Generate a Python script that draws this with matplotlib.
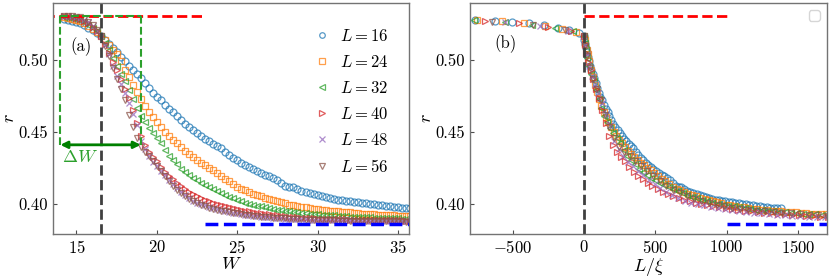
import matplotlib
matplotlib.use("Agg")
import matplotlib.pyplot as plt
import numpy as np

plt.rcParams['font.family'] = 'serif'
plt.rcParams['font.serif'] = ['cmr10']
plt.rcParams['mathtext.fontset'] = 'cm'
plt.rcParams['axes.formatter.use_mathtext'] = True

# disorder grid (step 0.25)
W = np.round(np.arange(14.25, 36.001, 0.25), 2)

L_sizes = [16, 24, 32, 40, 48, 56]

r16 = [0.5285, 0.5280, 0.5273, 0.5264, 0.5253, 0.5240, 0.5225, 0.5208, 0.5189, 0.5168,
       0.5140, 0.5110, 0.5084, 0.5055, 0.5022, 0.4990, 0.4960, 0.4930, 0.4902, 0.4873,
       0.4840, 0.4805, 0.4772, 0.4745, 0.4718, 0.4690, 0.4662, 0.4635, 0.4608, 0.4580,
       0.4555, 0.4532, 0.4510, 0.4490, 0.4470, 0.4452, 0.4435, 0.4418, 0.4401, 0.4385,
       0.4362, 0.4340, 0.4321, 0.4302, 0.4287, 0.4272, 0.4257, 0.4243, 0.4229, 0.4216,
       0.4203, 0.4190, 0.4177, 0.4165, 0.4146, 0.4127, 0.4115, 0.4120, 0.4100, 0.4092,
       0.4083, 0.4075, 0.4068, 0.4060, 0.4052, 0.4045, 0.4040, 0.4035, 0.4030, 0.4025,
       0.4022, 0.4018, 0.4015, 0.4012, 0.4007, 0.4003, 0.4000, 0.3997, 0.3994, 0.3990,
       0.3986, 0.3982, 0.3979, 0.3976, 0.3974, 0.3971, 0.3970, 0.3968]

r24 = [0.5295, 0.5292, 0.5286, 0.5278, 0.5267, 0.5253, 0.5236, 0.5216, 0.5194, 0.5168,
       0.5135, 0.5105, 0.5072, 0.5038, 0.4995, 0.4930, 0.4880, 0.4825, 0.4775, 0.4725,
       0.4680, 0.4635, 0.4600, 0.4570, 0.4535, 0.4500, 0.4470, 0.4445, 0.4420, 0.4395,
       0.4370, 0.4345, 0.4325, 0.4305, 0.4287, 0.4270, 0.4252, 0.4235, 0.4212, 0.4195,
       0.4175, 0.4158, 0.4135, 0.4118, 0.4105, 0.4093, 0.4082, 0.4071, 0.4061, 0.4052,
       0.4043, 0.4035, 0.4027, 0.4020, 0.4012, 0.4005, 0.3995, 0.3990, 0.3985, 0.3980,
       0.3976, 0.3972, 0.3967, 0.3962, 0.3959, 0.3956, 0.3953, 0.3950, 0.3948, 0.3945,
       0.3942, 0.3940, 0.3937, 0.3934, 0.3932, 0.3930, 0.3928, 0.3926, 0.3924, 0.3922,
       0.3921, 0.3920, 0.3919, 0.3918, 0.3917, 0.3916, 0.3915, 0.3914]

r32 = [0.5300, 0.5298, 0.5294, 0.5287, 0.5277, 0.5263, 0.5245, 0.5223, 0.5198, 0.5168,
       0.5120, 0.5070, 0.5015, 0.4960, 0.4905, 0.4850, 0.4790, 0.4730, 0.4665, 0.4610,
       0.4570, 0.4530, 0.4490, 0.4455, 0.4420, 0.4375, 0.4333, 0.4305, 0.4275, 0.4245,
       0.4222, 0.4200, 0.4180, 0.4163, 0.4148, 0.4133, 0.4118, 0.4105, 0.4090, 0.4075,
       0.4062, 0.4050, 0.4038, 0.4027, 0.4018, 0.4009, 0.4001, 0.3994, 0.3988, 0.3982,
       0.3976, 0.3970, 0.3965, 0.3960, 0.3955, 0.3950, 0.3947, 0.3943, 0.3940, 0.3937,
       0.3934, 0.3931, 0.3929, 0.3927, 0.3925, 0.3923, 0.3921, 0.3919, 0.3917, 0.3915,
       0.3914, 0.3912, 0.3911, 0.3910, 0.3908, 0.3907, 0.3906, 0.3905, 0.3904, 0.3903,
       0.3902, 0.3901, 0.3900, 0.3899, 0.3898, 0.3898, 0.3897, 0.3896]

r40 = [0.5303, 0.5302, 0.5299, 0.5293, 0.5284, 0.5271, 0.5253, 0.5230, 0.5201, 0.5167,
       0.5110, 0.5045, 0.4985, 0.4930, 0.4865, 0.4800, 0.4735, 0.4655, 0.4565, 0.4470,
       0.4410, 0.4360, 0.4325, 0.4295, 0.4258, 0.4222, 0.4195, 0.4170, 0.4148, 0.4125,
       0.4103, 0.4083, 0.4067, 0.4053, 0.4041, 0.4030, 0.4019, 0.4008, 0.3998, 0.3990,
       0.3982, 0.3975, 0.3968, 0.3962, 0.3957, 0.3952, 0.3947, 0.3943, 0.3939, 0.3935,
       0.3930, 0.3926, 0.3922, 0.3919, 0.3916, 0.3913, 0.3910, 0.3908, 0.3906, 0.3904,
       0.3902, 0.3900, 0.3899, 0.3898, 0.3897, 0.3896, 0.3895, 0.3894, 0.3893, 0.3892,
       0.3892, 0.3891, 0.3890, 0.3890, 0.3889, 0.3889, 0.3888, 0.3888, 0.3887, 0.3887,
       0.3886, 0.3886, 0.3885, 0.3885, 0.3885, 0.3884, 0.3884, 0.3884]

r48 = [0.5305, 0.5304, 0.5302, 0.5297, 0.5290, 0.5278, 0.5260, 0.5235, 0.5204, 0.5166,
       0.5105, 0.5040, 0.4960, 0.4885, 0.4830, 0.4770, 0.4700, 0.4625, 0.4545, 0.4440,
       0.4380, 0.4330, 0.4293, 0.4260, 0.4228, 0.4197, 0.4165, 0.4135, 0.4107, 0.4082,
       0.4058, 0.4038, 0.4021, 0.4008, 0.3998, 0.3989, 0.3980, 0.3972, 0.3965, 0.3958,
       0.3951, 0.3945, 0.3939, 0.3934, 0.3929, 0.3925, 0.3921, 0.3917, 0.3914, 0.3911,
       0.3908, 0.3906, 0.3904, 0.3902, 0.3900, 0.3898, 0.3897, 0.3895, 0.3894, 0.3893,
       0.3892, 0.3891, 0.3890, 0.3889, 0.3888, 0.3888, 0.3887, 0.3887, 0.3886, 0.3886,
       0.3885, 0.3885, 0.3884, 0.3884, 0.3883, 0.3883, 0.3883, 0.3882, 0.3882, 0.3882,
       0.3881, 0.3881, 0.3881, 0.3880, 0.3880, 0.3880, 0.3880, 0.3879]

r56 = [0.5306, 0.5306, 0.5304, 0.5301, 0.5295, 0.5284, 0.5266, 0.5240, 0.5206, 0.5165,
       0.5100, 0.5030, 0.4945, 0.4865, 0.4795, 0.4720, 0.4620, 0.4535, 0.4460, 0.4395,
       0.4360, 0.4330, 0.4300, 0.4262, 0.4225, 0.4190, 0.4160, 0.4125, 0.4098, 0.4075,
       0.4055, 0.4037, 0.4020, 0.4006, 0.3994, 0.3983, 0.3974, 0.3966, 0.3959, 0.3953,
       0.3947, 0.3942, 0.3938, 0.3933, 0.3929, 0.3925, 0.3921, 0.3918, 0.3915, 0.3912,
       0.3909, 0.3907, 0.3905, 0.3903, 0.3901, 0.3899, 0.3897, 0.3895, 0.3894, 0.3892,
       0.3891, 0.3890, 0.3889, 0.3888, 0.3887, 0.3886, 0.3886, 0.3885, 0.3884, 0.3884,
       0.3883, 0.3883, 0.3882, 0.3882, 0.3881, 0.3881, 0.3880, 0.3880, 0.3880, 0.3879,
       0.3879, 0.3879, 0.3878, 0.3878, 0.3878, 0.3877, 0.3877, 0.3877]

r_all = [r16, r24, r32, r40, r48, r56]

# reference values and scaling parameters
r_GOE = 0.5307
r_Poisson = 0.3863
W_c = 16.5
nu = 1.45
xi_plus = 0.86     # correlation length amplitude above W_c
xi_minus = 0.0575  # amplitude below W_c
W_box = (14.0, 19.0)
r_arrow = 0.441

markers = ['o', 's', '<', '>', 'x', 'v']
colors = ['#1f77b4', '#ff7f0e', '#2ca02c', '#d62728', '#9467bd', '#8c564b']

fig = plt.figure(figsize=(8.3, 2.77), dpi=100)
ax1 = fig.add_axes([0.064, 0.155, 0.429, 0.834])
ax2 = fig.add_axes([0.566, 0.155, 0.430, 0.834])

# ---- panel (a)
for L, r, m, c in zip(L_sizes, r_all, markers, colors):
  ax1.plot(W, r, linestyle='none', marker=m, ms=5, mfc='none', mec=c, mew=0.9,
           alpha=0.75, label=r'$L=%d$' % L)

ax1.axvline(W_c, color='0.25', ls='--', lw=2)
ax1.hlines(r_GOE, 13.0, 23.0, colors='red', linestyles='--', lw=2)
ax1.hlines(r_Poisson, 23.0, 36.0, colors='blue', linestyles='--', lw=2.5)

gc = '#2ca02c'
ax1.plot([W_box[0], W_box[0]], [r_arrow, r_GOE], color=gc, ls='--', lw=1.5)
ax1.plot([W_box[1], W_box[1]], [r_arrow, r_GOE], color=gc, ls='--', lw=1.5)
ax1.plot([W_box[0], W_box[1]], [r_GOE, r_GOE], color=gc, ls='--', lw=1.5)
ax1.annotate('', xy=(W_box[1], r_arrow), xytext=(W_box[0], r_arrow),
             arrowprops=dict(arrowstyle='<|-|>', color='green', lw=2,
                             mutation_scale=10, shrinkA=0, shrinkB=0))
ax1.text(14.1, 0.4325, r'$\Delta W$', color=gc, fontsize=13, ha='left', va='center')
ax1.text(15.3, 0.509, '(a)', fontsize=12, ha='center', va='center')

ax1.set_xlim(13.55, 35.7)
ax1.set_ylim(0.379, 0.5395)
ax1.set_xticks([15, 20, 25, 30, 35])
ax1.set_yticks([0.40, 0.45, 0.50])
ax1.set_yticklabels(['0.40', '0.45', '0.50'])
ax1.set_xlabel(r'$W$', fontsize=13, labelpad=0)
ax1.set_ylabel(r'$r$', fontsize=13, labelpad=1)
ax1.legend(loc='upper right', bbox_to_anchor=(0.96, 0.92), borderaxespad=0,
           frameon=False, fontsize=12, markerscale=0.8, handlelength=1.0,
           handletextpad=0.6, labelspacing=0.6)

# ---- panel (b): data collapse versus L/xi
for L, r, m, c in zip(L_sizes, r_all, markers, colors):
  d = np.abs(W - W_c)
  x = np.where(W >= W_c, L * d**nu / xi_plus, -L * d**nu / xi_minus)
  ax2.plot(x, r, linestyle='none', marker=m, ms=5, mfc='none', mec=c, mew=0.9,
           alpha=0.75)

ax2.axvline(0, color='0.25', ls='--', lw=2)
ax2.hlines(r_GOE, 0, 1000, colors='red', linestyles='--', lw=2)
ax2.hlines(r_Poisson, 1000, 1700, colors='blue', linestyles='--', lw=2.5)
ax2.text(-550, 0.5115, '(b)', fontsize=12, ha='center', va='center')

ax2.set_xlim(-800, 1700)
ax2.set_ylim(0.379, 0.5395)
ax2.set_xticks([-500, 0, 500, 1000, 1500])
ax2.set_yticks([0.40, 0.45, 0.50])
ax2.set_yticklabels(['0.40', '0.45', '0.50'])
ax2.set_xlabel(r'$L/\xi$', fontsize=13, labelpad=0)
ax2.set_ylabel(r'$r$', fontsize=13, labelpad=1)
ax2.legend(loc='upper right')

for ax in (ax1, ax2):
  ax.tick_params(direction='in', length=3, labelsize=12, color='0.3')
  for s in ax.spines.values():
    s.set_color('0.45')
    s.set_linewidth(1.0)

plt.savefig('out.png', dpi=100)
